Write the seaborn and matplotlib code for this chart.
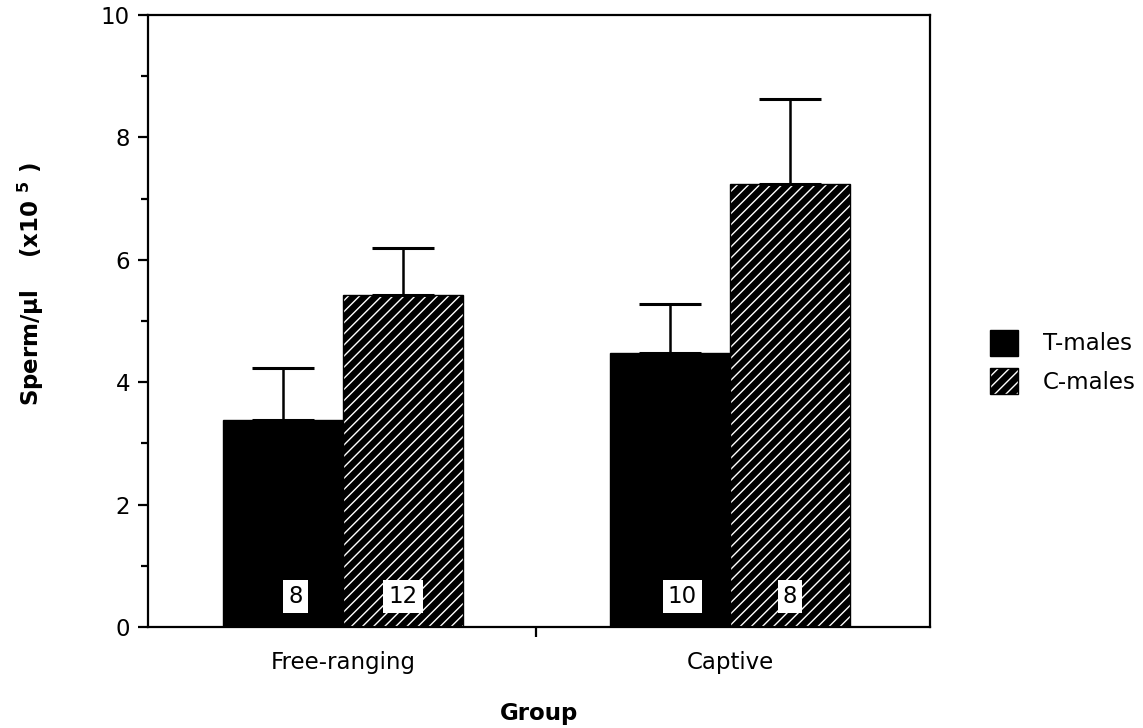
import matplotlib
matplotlib.use("Agg")
import matplotlib.pyplot as plt
import matplotlib.colors as mcolors
from matplotlib.patches import Patch
from matplotlib.ticker import MultipleLocator, FixedLocator, NullFormatter
import seaborn as sns
import pandas as pd

groups = ["Free-ranging", "Free-ranging", "Captive", "Captive"]
male_types = ["T-males", "C-males", "T-males", "C-males"]
means = [3.38, 5.43, 4.47, 7.24]
sems = [0.86, 0.77, 0.80, 1.38]
n_values = [8, 12, 10, 8]
group_order = ["Free-ranging", "Captive"]
hue_order = ["T-males", "C-males"]

sns.set_theme(style="ticks")
plt.rcParams["font.family"] = ["DejaVu Sans"]
plt.rcParams["hatch.linewidth"] = 1.0
plt.rcParams["hatch.color"] = "white"
plt.rcParams["axes.labelcolor"] = "black"
plt.rcParams["text.color"] = "black"

FS = 16.5

df = pd.DataFrame({"Group": groups, "Type": male_types, "Sperm": means})

fig = plt.figure(figsize=(11.43, 7.28), dpi=100)
ax = fig.add_axes([148 / 1143, 1 - 627 / 728, (930 - 148) / 1143, (627 - 15) / 728])

sns.barplot(data=df, x="Group", y="Sperm", hue="Type", order=group_order,
            hue_order=hue_order, palette=["black", "black"], saturation=1,
            width=0.62, errorbar=None, legend=False, ax=ax)

white = mcolors.to_rgba("white")
bars = sorted(ax.patches, key=lambda p: p.get_x())
key = list(zip(groups, male_types))
order_keys = [(g, t) for g in group_order for t in hue_order]
centers = []
for p, k in zip(bars, order_keys):
    p.set_facecolor("black")
    p.set_edgecolor("black")
    p.set_linewidth(1.0)
    if k[1] == "C-males":
        p.set_hatch("///")
    p._hatch_color = white
    centers.append(p.get_x() + p.get_width() / 2)

xs, ms, es, ns, ts = [], [], [], [], []
for c, k in zip(centers, order_keys):
    i = key.index(k)
    xs.append(c)
    ms.append(means[i])
    es.append(sems[i])
    ns.append(n_values[i])
    ts.append(k[1])

ax.errorbar(xs, ms, yerr=[[0] * len(es), es], fmt="none", ecolor="black",
            elinewidth=1.8, capsize=22, capthick=2.2, zorder=1)

for x, n, t in zip(xs, ns, ts):
    off = 0.032 if t == "T-males" else 0.0
    ax.text(x + off, 0.5, str(n), ha="center", va="center", fontsize=FS,
            color="black",
            bbox=dict(boxstyle="square,pad=0.22", facecolor="white",
                      edgecolor="none"))

ax.set_xlim(-0.504, 1.517)
ax.set_ylim(0, 10)
ax.yaxis.set_major_locator(MultipleLocator(2))
ax.yaxis.set_minor_locator(MultipleLocator(1))
ax.yaxis.set_minor_formatter(NullFormatter())
ax.tick_params(axis="y", which="major", length=7, width=1.6, labelsize=FS,
               pad=6, direction="out", colors="black")
ax.tick_params(axis="y", which="minor", length=5, width=1.6, direction="out",
               colors="black")
ax.set_xticks([0, 1])
ax.set_xticklabels(group_order)
ax.tick_params(axis="x", which="major", length=0, labelsize=FS, pad=17,
               colors="black")
ax.xaxis.set_minor_locator(FixedLocator([0.5]))
ax.tick_params(axis="x", which="minor", length=7, width=1.6, direction="out",
               colors="black")

for s in ax.spines.values():
    s.set_visible(True)
    s.set_linewidth(1.6)
    s.set_color("black")

ax.set_xlabel("Group", fontsize=FS, fontweight="bold", color="black")
ax.set_ylabel("Sperm/µl    (x10 $^{\\mathbf{5}}$ )", fontsize=FS,
              fontweight="bold", color="black")
ax.yaxis.set_label_coords(-0.13, 0.56)
ax.xaxis.set_label_coords(0.5, -0.122)

h1 = Patch(facecolor="black", edgecolor="black", label="T-males")
h2 = Patch(facecolor="black", edgecolor="black", hatch="///", label="C-males")
h1._hatch_color = white
h2._hatch_color = white
leg = ax.legend(handles=[h1, h2], loc="center left",
                bbox_to_anchor=(1.077, 0.433), frameon=False, fontsize=FS,
                handlelength=1.2, handleheight=1.35, handletextpad=1.1,
                labelspacing=0.55, borderpad=0, borderaxespad=0)
for t in leg.get_texts():
    t.set_color("black")

fig.savefig("out.png", dpi=100)
